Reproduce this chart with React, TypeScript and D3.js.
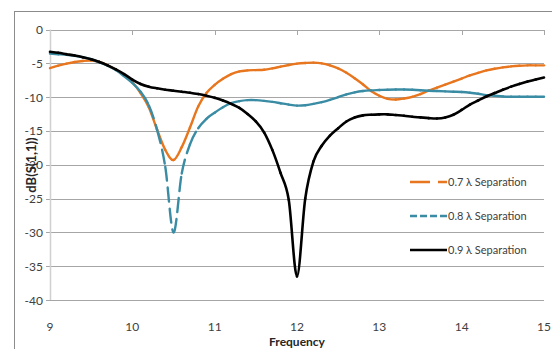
import React, { useEffect, useRef } from "react";
import * as d3 from "d3";

// frequency sample points (GHz)
const freq = [
  9.0, 9.1, 9.2, 9.3, 9.4, 9.5, 9.6, 9.7, 9.8, 9.9,
  10.0, 10.1, 10.2, 10.3, 10.4, 10.5, 10.6, 10.7, 10.8, 10.9,
  11.0, 11.1, 11.2, 11.3, 11.4, 11.5, 11.6, 11.7, 11.8, 11.9,
  12.0, 12.1, 12.2, 12.3, 12.4, 12.5, 12.6, 12.7, 12.8, 12.9,
  13.0, 13.1, 13.2, 13.3, 13.4, 13.5, 13.6, 13.7, 13.8, 13.9,
  14.0, 14.1, 14.2, 14.3, 14.4, 14.5, 14.6, 14.7, 14.8, 14.9,
  15.0,
];

// dB(S(1,1)) for each separation
const sep07 = [
  -5.7, -5.35, -5.05, -4.8, -4.65, -4.6, -4.8, -5.3, -5.95, -6.8,
  -7.8, -9.4, -11.5, -14.8, -17.8, -19.3, -17.4, -14.5, -11.4, -9.4,
  -8.2, -7.3, -6.6, -6.2, -6.05, -6.0, -5.95, -5.75, -5.5, -5.25,
  -5.05, -4.95, -4.9, -5.0, -5.3, -5.75, -6.4, -7.2, -8.1, -9.1,
  -9.8, -10.25, -10.35, -10.2, -9.95, -9.55, -9.05, -8.6, -8.15, -7.7,
  -7.25, -6.8, -6.4, -6.05, -5.8, -5.6, -5.45, -5.35, -5.3, -5.3,
  -5.3,
];
const sep08 = [
  -3.55, -3.65, -3.75, -3.9, -4.1, -4.4, -4.85, -5.35, -6.0, -6.9,
  -7.9, -9.2, -11.2, -14.8, -20.3, -30.0, -21.3, -17.0, -14.6, -13.2,
  -12.3, -11.5, -10.9, -10.6, -10.45, -10.45, -10.55, -10.7, -10.9, -11.1,
  -11.25, -11.2, -11.0, -10.75, -10.4, -10.0, -9.6, -9.3, -9.1, -9.0,
  -8.95, -8.9, -8.88, -8.88, -8.92, -8.98, -9.05, -9.1, -9.15, -9.2,
  -9.25, -9.35, -9.5, -9.7, -9.8, -9.9, -9.95, -9.95, -9.95, -9.95,
  -9.95,
];
const sep09 = [
  -3.3, -3.45, -3.65, -3.85, -4.1, -4.4, -4.8, -5.3, -5.9, -6.6,
  -7.4, -8.05, -8.45, -8.7, -8.9, -9.05, -9.2, -9.35, -9.55, -9.8,
  -10.1, -10.5, -11.0, -11.6, -12.5, -13.6, -15.2, -17.8, -21.2, -25.2,
  -36.5, -25.0, -19.5, -17.2, -15.7, -14.6, -13.6, -13.0, -12.7, -12.6,
  -12.55, -12.55, -12.65, -12.75, -12.9, -13.0, -13.1, -13.15, -13.0, -12.6,
  -11.9, -11.1, -10.5, -9.9, -9.4, -8.9, -8.45, -8.05, -7.7, -7.4,
  -7.1,
];

const xTicks = [9, 10, 11, 12, 13, 14, 15];
const yTicks = [0, -5, -10, -15, -20, -25, -30, -35, -40];
const legendLabels = ["0.7\u202Fλ Separation", "0.8\u202Fλ Separation", "0.9\u202Fλ Separation"];

const font = "Lato, 'Open Sans', sans-serif";
const textColor = "#404040";

const App = () => {
  const svgRef = useRef(null);

  useEffect(() => {
    const width = 552, height = 349;
    const svg = d3.select(svgRef.current);
    svg.selectAll("*").remove();

    const x = d3.scaleLinear().domain([9, 15]).range([50, 544]);
    const y = d3.scaleLinear().domain([-40, 0]).range([300, 29.5]);

    // outer chart frame (right / bottom fall outside the picture)
    svg.append("rect")
      .attr("x", 14.5).attr("y", 11.5)
      .attr("width", width + 20).attr("height", height + 20)
      .attr("fill", "#fff").attr("stroke", "#8c8c8c");

    // horizontal gridlines
    svg.append("g").selectAll("line")
      .data(yTicks)
      .join("line")
      .attr("x1", 46).attr("x2", x(15))
      .attr("y1", d => Math.round(y(d)) + 0.5).attr("y2", d => Math.round(y(d)) + 0.5)
      .attr("stroke", "#a6a6a6").attr("stroke-width", 1);

    // y axis line
    svg.append("line")
      .attr("x1", 50.5).attr("x2", 50.5)
      .attr("y1", y(0)).attr("y2", y(-40))
      .attr("stroke", "#d0d0d0").attr("stroke-width", 1.5);

    // x tick marks hang from the 0 dB line
    svg.append("g").selectAll("line")
      .data(xTicks.slice(1))
      .join("line")
      .attr("x1", d => Math.round(x(d)) + 0.5).attr("x2", d => Math.round(x(d)) + 0.5)
      .attr("y1", Math.round(y(0))).attr("y2", Math.round(y(0)) + 5)
      .attr("stroke", "#a6a6a6");

    // tick labels
    svg.append("g").selectAll("text")
      .data(yTicks)
      .join("text")
      .attr("x", 43).attr("y", d => y(d) + 4.5)
      .attr("text-anchor", "end")
      .attr("font-family", font).attr("font-size", 12).attr("fill", textColor)
      .text(d => d);

    svg.append("g").selectAll("text")
      .data(xTicks)
      .join("text")
      .attr("x", d => x(d)).attr("y", 331)
      .attr("text-anchor", "middle")
      .attr("font-family", font).attr("font-size", 12).attr("fill", textColor)
      .text(d => d);

    // axis titles
    svg.append("text")
      .attr("x", 297).attr("y", 346)
      .attr("text-anchor", "middle")
      .attr("font-family", font).attr("font-size", 12).attr("font-weight", "bold")
      .attr("fill", "#262626")
      .text("Frequency");

    svg.append("text")
      .attr("transform", "translate(36,165) rotate(-90)")
      .attr("text-anchor", "middle")
      .attr("font-family", font).attr("font-size", 13).attr("font-weight", "bold")
      .attr("fill", "#262626")
      .text("dB(S(1,1))");

    // smoothed (catmull-rom) segments drawn one by one: Excel restarts the
    // dash pattern on every segment, so dashes only show on the steep parts
    const drawSegments = (values, color, w, dash) => {
      const pts = values.map((v, i) => [x(freq[i]), y(v)]);
      const n = pts.length;
      const segs = d3.range(n - 1).map(i => {
        const p0 = pts[Math.max(i - 1, 0)], p1 = pts[i];
        const p2 = pts[i + 1], p3 = pts[Math.min(i + 2, n - 1)];
        const c1 = [p1[0] + (p2[0] - p0[0]) / 6, p1[1] + (p2[1] - p0[1]) / 6];
        const c2 = [p2[0] - (p3[0] - p1[0]) / 6, p2[1] - (p3[1] - p1[1]) / 6];
        return `M${p1}C${c1} ${c2} ${p2}`;
      });
      svg.append("g").selectAll("path")
        .data(segs)
        .join("path")
        .attr("d", d => d)
        .attr("fill", "none")
        .attr("stroke", color).attr("stroke-width", w)
        .attr("stroke-linecap", "round")
        .attr("stroke-dasharray", dash);
    };

    drawSegments(sep07, "#e8761e", 2.4, "40,8");
    drawSegments(sep08, "#3a8ca4", 2.4, "14,7");
    drawSegments(sep09, "#000", 2.6, null);

    // legend (transparent, gridlines show through)
    const legendStyles = [
      { color: "#e8761e", dash: "20,8", w: 2.6 },
      { color: "#3a8ca4", dash: "7,3", w: 2.6 },
      { color: "#000", dash: null, w: 2.6 },
    ];
    const legendY = [182, 216, 250];
    const lg = svg.append("g");
    legendLabels.forEach((label, i) => {
      lg.append("line")
        .attr("x1", 410).attr("x2", 447)
        .attr("y1", legendY[i]).attr("y2", legendY[i])
        .attr("stroke", legendStyles[i].color)
        .attr("stroke-width", legendStyles[i].w)
        .attr("stroke-dasharray", legendStyles[i].dash);
      lg.append("text")
        .attr("x", 448).attr("y", legendY[i] + 4)
        .attr("font-family", font).attr("font-size", 11).attr("fill", textColor)
        .text(label);
    });
  }, []);

  return (
    <svg
      ref={svgRef}
      width={552}
      height={349}
      style={{ position: "absolute", left: 0, top: 0, display: "block", background: "#fff" }}
    />
  );
};

export default App;
